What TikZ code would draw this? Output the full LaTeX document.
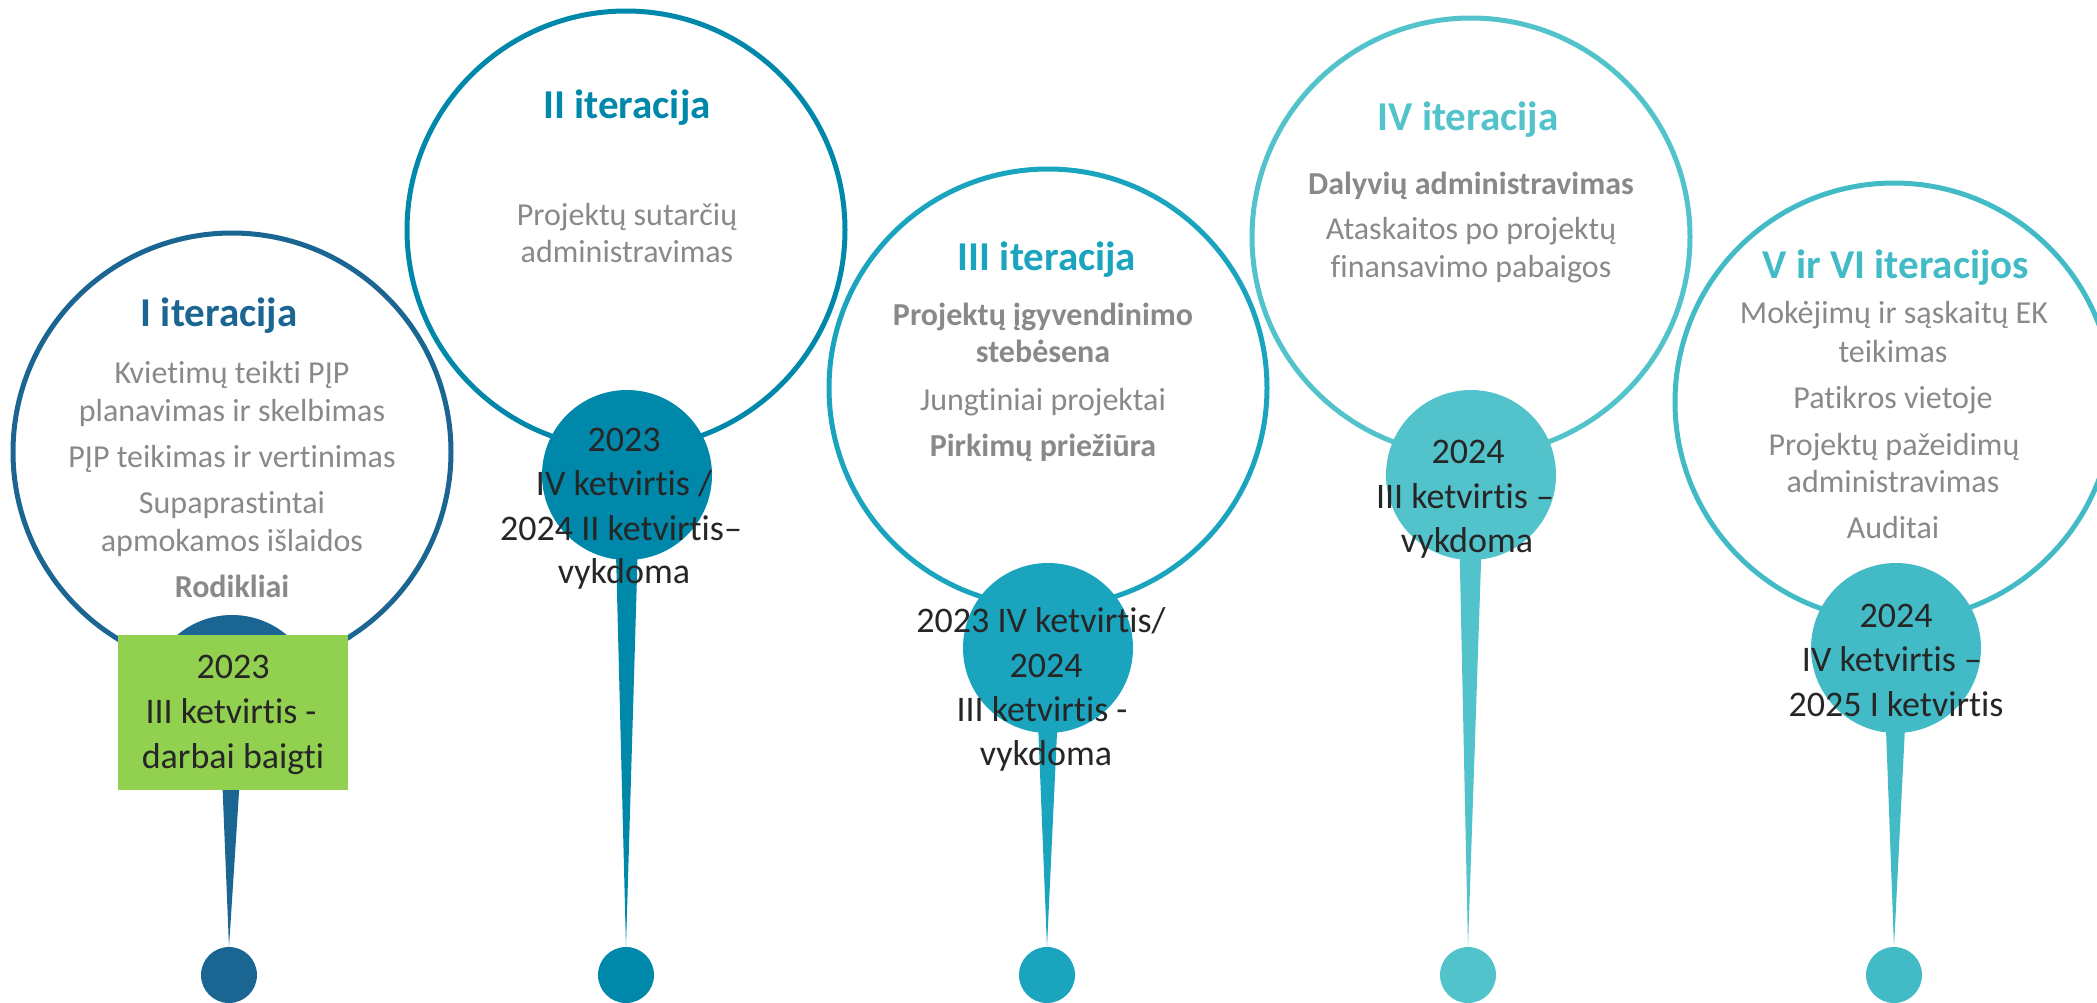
\documentclass[tikz,border=0pt]{standalone}
\usepackage{fontspec}
\setmainfont{Carlito}[Ligatures={NoCommon}]
\usetikzlibrary{calc}
\definecolor{cI}{RGB}{26,101,146}
\definecolor{cII}{RGB}{0,136,171}
\definecolor{cIII}{RGB}{27,164,190}
\definecolor{cIV}{RGB}{83,195,203}
\definecolor{cV}{RGB}{66,187,198}
\definecolor{grayt}{RGB}{137,137,137}
\definecolor{darkt}{RGB}{38,38,38}
\definecolor{greenbox}{RGB}{146,208,80}
\tikzset{
  ring/.style={circle, draw=#1, line width=5pt, minimum size=438pt, inner sep=0pt},
  datecirc/.style={circle, fill=#1, minimum size=170pt, inner sep=0pt},
  enddot/.style={circle, fill=#1, minimum size=56pt, inner sep=0pt},
  ttl/.style={anchor=base, inner sep=0pt, font=\fontsize{41}{49}\selectfont\bfseries, text=#1},
  gtxt/.style={anchor=base, inner sep=0pt, font=\fontsize{32}{39}\selectfont, text=grayt},
  gbold/.style={anchor=base, inner sep=0pt, font=\fontsize{32}{39}\selectfont\bfseries, text=grayt},
  dtxt/.style={anchor=base, inner sep=0pt, font=\fontsize{36}{44}\selectfont, text=darkt},
}
\begin{document}
\begin{tikzpicture}[x=1pt,y=-1pt]
\useasboundingbox (0,0) rectangle (2097,1002);
% rings
\node[ring=cI]   (r1) at (232,452) {};
\node[ring=cII]  (r2) at (626,230) {};
\node[ring=cIII] (r3) at (1048,388) {};
\node[ring=cIV]  (r4) at (1471,237) {};
\node[ring=cV]   (r5) at (1894,402) {};
% end dots
\node[enddot=cI]   (d1) at (229,975) {};
\node[enddot=cII]  (d2) at (626,975) {};
\node[enddot=cIII] (d3) at (1047,975) {};
\node[enddot=cIV]  (d4) at (1468,975) {};
\node[enddot=cV]   (d5) at (1894,975) {};
% date circle centres
\coordinate (s1c) at (232,700);
\coordinate (s2c) at (627,475);
\coordinate (s3c) at (1048,648);
\coordinate (s4c) at (1471,475);
\coordinate (s5c) at (1896,648);
% stems
\fill[cI]   ($(s1c)+(-13,0)$) -- ($(s1c)+(13,0)$) -- (d1.north) -- cycle;
\fill[cII]  ($(s2c)+(-13,0)$) -- ($(s2c)+(13,0)$) -- (d2.north) -- cycle;
\fill[cIII] ($(s3c)+(-13,0)$) -- ($(s3c)+(13,0)$) -- (d3.north) -- cycle;
\fill[cIV]  ($(s4c)+(-13,0)$) -- ($(s4c)+(13,0)$) -- (d4.north) -- cycle;
\fill[cV]   ($(s5c)+(-13,0)$) -- ($(s5c)+(13,0)$) -- (d5.north) -- cycle;
\node[datecirc=cI]   (s1) at (s1c) {};
\node[datecirc=cII]  (s2) at (s2c) {};
\node[datecirc=cIII] (s3) at (s3c) {};
\node[datecirc=cIV]  (s4) at (s4c) {};
\node[datecirc=cV]   (s5) at (s5c) {};
% green box
\node[fill=greenbox, minimum width=230pt, minimum height=155pt, inner sep=0pt] (box1) at (233,712.5) {};
% ---- I
\node[ttl=cI] (t1) at (219,326) {I iteracija};
\node[gtxt] (g1a) at (232,383) {Kvietimų teikti PĮP};
\node[gtxt] (g1b) at (232,421) {planavimas ir skelbimas};
\node[gtxt] (g1c) at (232,467) {PĮP teikimas ir vertinimas};
\node[gtxt] (g1d) at (232,513) {Supaprastintai};
\node[gtxt] (g1e) at (232,551) {apmokamos išlaidos};
\node[gbold] (g1f) at (232,597) {Rodikliai};
\node[dtxt] (e1a) at (233,678) {2023};
\node[dtxt] (e1b) at (231,723) {III ketvirtis -};
\node[dtxt] (e1c) at (233,768) {darbai baigti};
% ---- II
\node[ttl=cII] (t2) at (627,118) {II iteracija};
\node[gtxt] (g2a) at (627,225) {Projektų sutarčių};
\node[gtxt] (g2b) at (627,262) {administravimas};
\node[dtxt] (e2a) at (624,451) {2023};
\node[dtxt] (e2b) at (624,495) {IV ketvirtis /};
\node[dtxt] (e2c) at (621,540) {2024 II ketvirtis–};
\node[dtxt] (e2d) at (624,583) {vykdoma};
% ---- III
\node[ttl=cIII] (t3) at (1047,270) {III iteracija};
\node[gbold] (g3a) at (1043,325) {Projektų įgyvendinimo};
\node[gbold] (g3b) at (1043,362) {stebėsena};
\node[gtxt] (g3c) at (1043,410) {Jungtiniai projektai};
\node[gbold] (g3d) at (1043,456) {Pirkimų priežiūra};
\node[dtxt] (e3a) at (1041,632) {2023 IV ketvirtis/};
\node[dtxt] (e3b) at (1046,677) {2024};
\node[dtxt] (e3c) at (1042,721) {III ketvirtis -};
\node[dtxt] (e3d) at (1046,765) {vykdoma};
% ---- IV
\node[ttl=cIV] (t4) at (1468,130) {IV iteracija};
\node[gbold] (g4a) at (1471,194) {Dalyvių administravimas};
\node[gtxt] (g4b) at (1471,239) {Ataskaitos po projektų};
\node[gtxt] (g4c) at (1471,277) {finansavimo pabaigos};
\node[dtxt] (e4a) at (1468,463) {2024};
\node[dtxt] (e4b) at (1465,508) {III ketvirtis –};
\node[dtxt] (e4c) at (1467,552) {vykdoma};
% ---- V
\node[ttl=cV] (t5) at (1896,278) {V ir VI iteracijos};
\node[gtxt] (g5a) at (1894,323) {Mokėjimų ir sąskaitų EK};
\node[gtxt] (g5b) at (1893,362) {teikimas};
\node[gtxt] (g5c) at (1893,408) {Patikros vietoje};
\node[gtxt] (g5d) at (1894,455) {Projektų pažeidimų};
\node[gtxt] (g5e) at (1893,492) {administravimas};
\node[gtxt] (g5f) at (1893,538) {Auditai};
\node[dtxt] (e5a) at (1896,627) {2024};
\node[dtxt] (e5b) at (1892,671) {IV ketvirtis –};
\node[dtxt] (e5c) at (1896,716) {2025 I ketvirtis};
\end{tikzpicture}
\end{document}
